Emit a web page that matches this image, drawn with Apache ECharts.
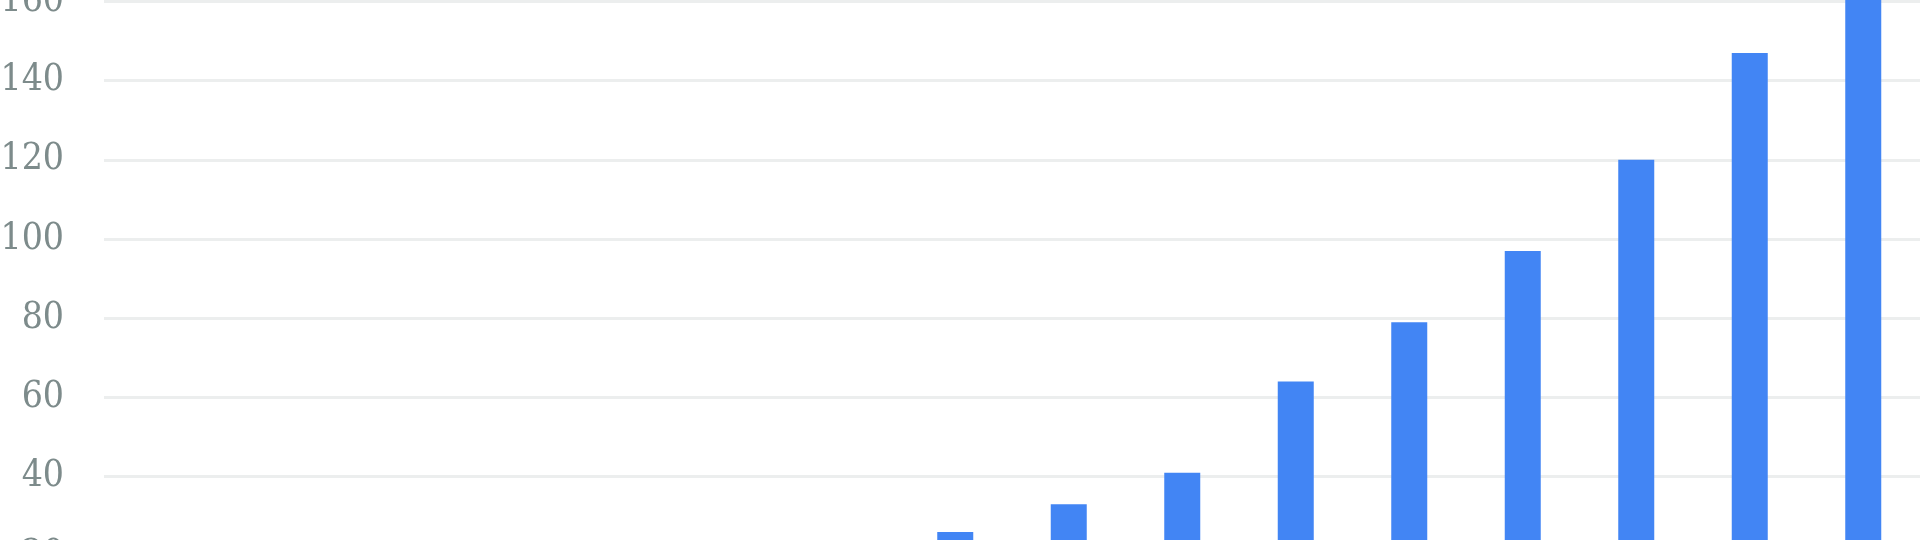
<!DOCTYPE html>
<html>
<head>
<meta charset="utf-8">
<script src="https://cdn.jsdelivr.net/npm/echarts@6/dist/echarts.min.js"></script>
<style>
  html, body { margin: 0; padding: 0; background: #fff; overflow: hidden; }
  #wrap { position: relative; width: 1920px; height: 540px; overflow: hidden; }
  /* the visible picture is a window onto a taller chart */
  #chart { position: absolute; left: 0; top: -157px; width: 1920px; height: 792px; }
</style>
</head>
<body>
<div id="wrap"><div id="chart"></div></div>
<script>
var categories = ['1', '2', '3', '4', '5', '6', '7', '8', '9', '10', '11', '12', '13', '14', '15', '16'];
var values = [3, 5, 7, 9, 12, 15, 20, 26, 33, 41, 64, 79, 97, 120, 147, 180];
var yTicks = [0, 20, 40, 60, 80, 100, 120, 140, 160, 180, 200];

var chart = echarts.init(document.getElementById('chart'));

var option = {
    animation: false,
    grid: {
        left: 104,
        right: 0,
        top: 0,
        bottom: 0,
        containLabel: false,
        outerBoundsMode: 'none'
    },
    xAxis: {
        type: 'category',
        data: categories,
        axisLine: { show: false },
        axisTick: { show: false },
        axisLabel: { show: false }
    },
    yAxis: {
        type: 'value',
        min: yTicks[0],
        max: yTicks[yTicks.length - 1],
        interval: 20,
        axisLine: { show: false },
        axisTick: { show: false },
        axisLabel: {
            margin: 40,
            color: '#7d8b8b',
            fontFamily: '"DejaVu Serif Condensed", "DejaVu Serif"',
            fontSize: 37
        },
        splitLine: {
            lineStyle: { color: '#eceeee', width: 3 }
        }
    },
    series: [{
        type: 'bar',
        data: values,
        barWidth: 36,
        itemStyle: { color: '#4285f4' }
    }]
};

chart.setOption(option);
</script>
</body>
</html>
